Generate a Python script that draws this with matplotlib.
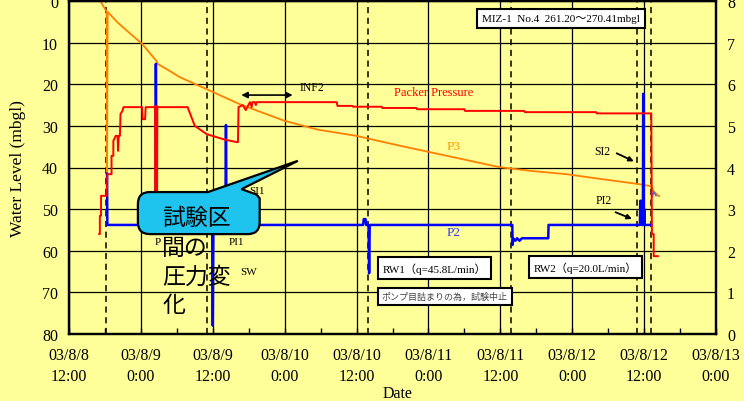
import matplotlib
matplotlib.use("Agg")
import matplotlib.pyplot as plt
from matplotlib.path import Path
from matplotlib.patches import PathPatch

plt.rcParams['font.family'] = ['Liberation Serif', 'Noto Sans CJK JP']

# Time axis: elapsed hours since 2003/08/08 12:00
x_tick_hours = list(range(0, 109, 12))
x_tick_labels = ["03/8/8\n12:00", "03/8/9\n0:00", "03/8/9\n12:00", "03/8/10\n0:00",
                 "03/8/10\n12:00", "03/8/11\n0:00", "03/8/11\n12:00", "03/8/12\n0:00",
                 "03/8/12\n12:00", "03/8/13\n0:00"]
level_ticks = list(range(0, 81, 10))
pressure_ticks = list(range(0, 9))

# P3 water level (mbgl)
p3_hours = [5.2, 6.15, 6.3, 6.35, 6.45, 8.0, 9.0, 12.2, 14.6, 14.8, 16.8, 18.5, 23.0, 28.5,
            36.0, 41.5, 48.0, 49.8, 55.0, 60.2, 66.0, 71.8, 77.0, 83.0, 89.0, 95.2, 97.2,
            97.6, 98.5]
p3_level = [0.0, 2.2, 2.6, 41.5, 2.6, 5.0, 6.3, 10.3, 14.4, 15.1, 16.8, 18.3, 21.2, 24.8,
            28.8, 30.9, 32.4, 33.0, 34.7, 36.3, 38.1, 39.9, 40.8, 41.6, 42.8, 44.0, 44.5,
            45.8, 46.9]

# P2 water level (mbgl)
p2_hours = [6.35, 6.4, 14.45, 14.5, 14.6, 23.9, 24.0, 24.1, 26.1, 26.2, 26.3, 49.1, 49.2,
            49.5, 49.6, 50.0, 50.1, 50.2, 74.0, 74.05, 74.15, 74.5, 74.8, 75.2, 75.6, 80.0,
            80.05, 95.3, 95.35, 95.5, 95.55, 95.8, 95.85, 95.95, 96.05, 96.1, 97.2]
p2_level = [41.5, 53.8, 53.8, 15.1, 53.8, 53.8, 78.0, 53.8, 53.8, 29.8, 53.8, 53.8, 52.4,
            52.4, 53.8, 53.8, 65.4, 53.8, 53.8, 58.6, 57.0, 57.6, 57.0, 57.6, 57.0, 57.0,
            53.8, 53.8, 48.0, 48.0, 53.8, 53.8, 22.3, 53.8, 50.0, 53.8, 53.8]
p2_tail_hours = [97.4, 97.6, 98.0]
p2_tail_level = [47.0, 45.8, 46.8]

# Packer pressure (MPa, right axis)
packer_hours = [5.05, 5.15, 5.15, 5.35, 5.35, 6.3, 6.4, 7.1, 7.1, 7.4, 7.4, 7.8, 8.1, 8.2,
                8.3, 8.5, 8.6, 8.9, 9.1, 12.2, 12.3, 12.7, 12.8, 14.5, 14.55, 14.7, 14.75,
                19.8, 21.0, 23.0, 26.0, 28.0, 28.2, 28.3, 29.0, 29.5, 30.2, 30.5, 30.6,
                31.0, 31.2, 31.3, 36.0, 44.7, 44.8, 47.3, 47.4, 52.2, 52.3, 58.0, 58.1,
                66.0, 66.1, 76.0, 76.1, 88.0, 88.1, 97.2, 97.3, 97.6, 97.6, 98.3]
packer_mpa = [2.4, 2.4, 2.84, 2.84, 3.32, 3.32, 3.84, 3.84, 4.28, 4.28, 4.64, 4.76, 4.76,
              4.4, 4.76, 4.76, 5.29, 5.35, 5.45, 5.45, 5.16, 5.16, 5.45, 5.45, 2.5, 2.5,
              5.45, 5.45, 5.0, 4.8, 4.67, 4.61, 4.61, 5.45, 5.5, 5.38, 5.57, 5.45, 5.57,
              5.57, 5.5, 5.57, 5.57, 5.57, 5.48, 5.48, 5.46, 5.46, 5.43, 5.43, 5.4, 5.4,
              5.36, 5.36, 5.33, 5.33, 5.3, 5.3, 2.4, 2.4, 1.87, 1.87]

# Test events (dashed verticals)
event_hours = [6.2, 23.0, 49.83, 73.83, 94.83, 97.17]

BG = '#FFFF99'
ORANGE = '#FF8000'
RED = '#FF0000'
BLUE = '#0000FF'

fig = plt.figure(figsize=(7.44, 4.02), dpi=100, facecolor=BG)
ax = fig.add_axes([69 / 744, 1 - 335 / 402, 647 / 744, 333 / 402])
ax.set_facecolor(BG)
ax.set_xlim(0, 108)
ax.set_ylim(80, 0)

ax.set_xticks(x_tick_hours)
ax.set_xticklabels(x_tick_labels, fontsize=11.5, linespacing=1.45)
ax.set_xticks(list(range(0, 109, 6)), minor=True)
ax.tick_params(axis='x', which='both', direction='in', length=4, width=1, pad=9, colors='black')
ax.set_yticks(level_ticks)
ax.tick_params(axis='y', direction='in', length=0, pad=8, labelsize=11.5)
ax.grid(True, which='major', color='black', lw=0.9)
ax.set_axisbelow(True)

for s in ax.spines.values():
    s.set_linewidth(1.6)

for h in event_hours:
    ax.axvline(h, color='black', ls=(0, (4, 3)), lw=1.1, zorder=1.5)

ax.plot(p3_hours, p3_level, color=ORANGE, lw=1.3, zorder=2)
ax.plot(p2_hours, p2_level, color=BLUE, lw=1.8, zorder=2.2)
ax.plot(p2_tail_hours, p2_tail_level, color='#4060FF', lw=1.0, zorder=2.2)

ax.set_ylabel("Water Level (mbgl)", fontsize=12.5)
ax.yaxis.set_label_coords(-0.066, 0.5)
ax.set_xlabel("Date", fontsize=11.5)
ax.xaxis.set_label_coords((398 - 69) / 647, -0.152)

ax2 = ax.twinx()
ax2.set_ylim(0, 8)
ax2.set_yticks(pressure_ticks)
ax2.tick_params(axis='y', length=0, pad=8, labelsize=11.5)
for s in ax2.spines.values():
    s.set_linewidth(1.6)
ax2.plot(packer_hours, packer_mpa, color=RED, lw=1.4, zorder=2)
# thicker section of the first packer release
ax2.plot([14.52, 14.52], [5.45, 2.5], color=RED, lw=2.6, zorder=2)

T = ax.transData

def label(x, y, s, **kw):
    kw.setdefault('fontsize', 8.5)
    kw.setdefault('ha', 'center')
    kw.setdefault('va', 'center')
    ax2.text(x, y, s, transform=T, **kw)

label(38.5, 20.7, "INF2", ha='left')
ax2.annotate('', xy=(28.3, 22.6), xytext=(37.8, 22.6), xycoords=T, textcoords=T,
             arrowprops=dict(arrowstyle='<|-|>', color='black', lw=1.2, mutation_scale=9))
label(60.8, 21.9, "Packer Pressure", color=RED, fontsize=9)
label(64.2, 34.8, "P3", color='#FF9900', fontsize=9.5)
label(64.2, 55.5, "P2", color='#3333FF', fontsize=9.5)
label(89.0, 36.0, "SI2")
ax2.annotate('', xy=(94.7, 38.8), xytext=(91.0, 36.3), xycoords=T, textcoords=T,
             arrowprops=dict(arrowstyle='-|>', color='black', lw=1.3, mutation_scale=7))
label(89.3, 47.8, "PI2")
ax2.annotate('', xy=(94.4, 52.6), xytext=(90.8, 50.5), xycoords=T, textcoords=T,
             arrowprops=dict(arrowstyle='-|>', color='black', lw=1.3, mutation_scale=7))
label(31.4, 45.6, "SI1", fontsize=8)
label(27.9, 57.7, "PI1", fontsize=8)
label(30.0, 65.1, "SW", fontsize=8)
label(14.9, 57.7, "P", fontsize=8)

box = dict(boxstyle='square,pad=0.45', fc='white', ec='black', lw=1.5)
label(82.2, 4.3, "MIZ-1  No.4  261.20～270.41mbgl", fontsize=8, bbox=box)
label(61.0, 64.1, "RW1（q=45.8L/min）", fontsize=8, bbox=box)
label(62.7, 70.9, "ポンプ目詰まりの為，試験中止", fontsize=6.5, color='#444444',
      family=['Noto Sans CJK JP'], bbox=box)
label(86.2, 63.9, "RW2（q=20.0L/min）", fontsize=8, bbox=box)

# Speech-bubble callout
L, R, TOP, BOT = 11.5, 31.83, 45.9, 56.0
rx, ry = 2.0, 2.9
verts = [(L + rx, TOP), (23.2, TOP), (38.2, 38.4), (28.8, 45.2), (31.3, 46.5),
         (R, 47.4), (R, BOT - ry), (R, BOT), (R - rx, BOT), (L + rx, BOT), (L, BOT),
         (L, BOT - ry), (L, TOP + ry), (L, TOP), (L + rx, TOP), (L + rx, TOP)]
codes = [Path.MOVETO, Path.LINETO, Path.LINETO, Path.LINETO, Path.LINETO, Path.LINETO,
         Path.LINETO, Path.CURVE3, Path.CURVE3, Path.LINETO, Path.CURVE3, Path.CURVE3,
         Path.LINETO, Path.CURVE3, Path.CURVE3, Path.CLOSEPOLY]
bubble = PathPatch(Path(verts, codes), transform=T, fc='#1EC3EE', ec='black', lw=1.6,
                   zorder=5)
ax2.add_patch(bubble)

bubble_lines = ["試験区", "間の", "圧力変", "化"]
bubble_y = [52.1, 59.3, 66.1, 72.8]
for s, y in zip(bubble_lines, bubble_y):
    ax2.text(15.6, y, s, transform=T, fontsize=16.5, family=['Noto Sans CJK JP'],
             ha='left', va='center', color='black', zorder=6)

fig.savefig("out.png", dpi=100, facecolor=BG)
